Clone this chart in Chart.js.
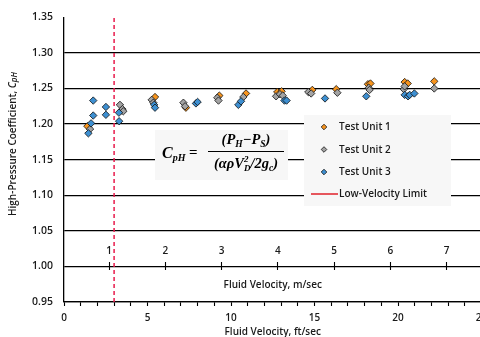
<!DOCTYPE html>
<html><head><meta charset="utf-8">
<script src="https://cdn.jsdelivr.net/npm/chart.js@4.4.1/dist/chart.umd.min.js"></script>
<style>
html,body{margin:0;padding:0;background:#fff;overflow:hidden;width:480px;height:337px}
#wrap{position:absolute;left:0;top:0;width:500px;height:337px}
</style>
</head><body><div id="wrap"><canvas id="c" width="500" height="337"></canvas></div>
<script>
// ---- data (velocity in ft/sec, coefficient CpH) ----
const unit1X = [1.40, 3.45, 5.45, 7.30, 9.30, 10.90, 12.77, 13.03, 14.87, 16.30, 18.20, 18.35, 20.40, 20.58, 22.17];
const unit1Y = [1.197, 1.219, 1.238, 1.223, 1.240, 1.243, 1.245, 1.246, 1.248, 1.249, 1.256, 1.257, 1.259, 1.257, 1.260];
const unit2X = [1.56, 3.35, 3.50, 3.55, 5.25, 5.35, 7.15, 7.25, 9.18, 9.25, 10.74, 12.70, 12.93, 13.10, 14.63, 14.80, 16.37, 18.25, 18.30, 20.35, 20.40, 22.17];
const unit2Y = [1.193, 1.227, 1.221, 1.218, 1.234, 1.230, 1.230, 1.225, 1.237, 1.233, 1.238, 1.239, 1.242, 1.240, 1.245, 1.243, 1.244, 1.251, 1.248, 1.249, 1.253, 1.250];
const unit3X = [1.46, 1.62, 1.75, 1.75, 2.51, 2.51, 3.29, 3.30, 5.40, 5.45, 7.90, 8.00, 10.44, 10.60, 13.20, 13.33, 15.63, 18.10, 20.40, 20.60, 20.70, 20.98];
const unit3Y = [1.187, 1.201, 1.212, 1.233, 1.224, 1.213, 1.216, 1.204, 1.227, 1.223, 1.229, 1.231, 1.227, 1.232, 1.233, 1.233, 1.236, 1.239, 1.241, 1.239, 1.241, 1.243];
const seriesLabels = ['Test Unit 1', 'Test Unit 2', 'Test Unit 3', 'Low-Velocity Limit'];
const lowVelocityLimitFt = 3;
const yRange = [0.95, 1.35];
const yStep = 0.05;
const ftRange = [0, 25];
const ftMinorStep = 1;
const ftLabelStep = 5;
const mRange = [0.2, 7.62];
const mTicks = [1, 2, 3, 4, 5, 6, 7];
const mAxisAtY = 1.00;

const ORANGE = '#f7941d', GRAY = '#a3a3a3', BLUE = '#3d8fd1', RED = '#e8194b';
const TXT = '#1a1a1a';
const FONT = '"Open Sans", "Noto Sans", sans-serif';
const tickFont = {family: FONT, size: 10, weight: '600'};

const pts = (xs, ys) => xs.map((x, i) => ({x, y: ys[i]}));
const pointStyle = {pointStyle: 'rectRot', pointRadius: 3.7, borderColor: '#111', borderWidth: 0.8};

const overlayPlugin = {
  id: 'overlay',
  beforeDatasetsDraw(chart) {
    const ctx = chart.ctx;
    ctx.save();
    // formula box
    ctx.fillStyle = '#f7f7f7';
    ctx.fillRect(155, 130, 133, 50);
    // legend box
    ctx.fillRect(304, 115, 147, 91);
    // formula
    ctx.fillStyle = '#000';
    ctx.textBaseline = 'alphabetic';
    const serif = (s) => `italic bold ${s}px "Liberation Serif", "DejaVu Serif", serif`;
    const runW = (segs) => { let w = 0; for (const g of segs) { if (g.stack) { ctx.font = serif(g.s); w += Math.max(ctx.measureText(g.t).width, ctx.measureText(g.t2).width); } else { ctx.font = g.up ? `bold ${g.s}px "Liberation Serif", serif` : serif(g.s); w += ctx.measureText(g.t).width; } } return w; };
    const run = (segs, x, base) => {
      let cx = x;
      for (const g of segs) {
        if (g.stack) {
          ctx.font = serif(g.s);
          ctx.fillText(g.t, cx, base - 6);
          ctx.fillText(g.t2, cx, base + 3);
          cx += Math.max(ctx.measureText(g.t).width, ctx.measureText(g.t2).width);
        } else {
          ctx.font = g.up ? `bold ${g.s}px "Liberation Serif", serif` : serif(g.s);
          ctx.fillText(g.t, cx, base + (g.dy || 0));
          cx += ctx.measureText(g.t).width;
        }
      }
    };
    run([{t: 'C', s: 16}, {t: 'pH', s: 10, dy: 3}], 162, 158);
    run([{t: '=', s: 15, up: true}], 189, 157);
    const num = [{t: '(P', s: 14.5}, {t: 'H', s: 9.5, dy: 3}, {t: '\u2212P', s: 14.5}, {t: 'S', s: 9.5, dy: 3}, {t: ')', s: 14.5}];
    const den = [{t: '(\u03b1\u03c1V', s: 14.5}, {stack: true, t: '2', t2: 'D', s: 9}, {t: '/2g', s: 14.5}, {t: 'c', s: 9.5, dy: 3}, {t: ')', s: 14.5}];
    const cxF = 246;
    run(num, cxF - runW(num) / 2, 144);
    run(den, cxF - runW(den) / 2, 168);
    ctx.strokeStyle = '#000'; ctx.lineWidth = 1.2;
    ctx.beginPath(); ctx.moveTo(208, 151.5); ctx.lineTo(284, 151.5); ctx.stroke();
    // legend items
    const ds = chart.data.datasets;
    const rows = [127, 149.5, 172, 194];
    ctx.font = `600 10px ${FONT}`;
    ctx.textBaseline = 'middle';
    ds.forEach((d, i) => {
      const y = rows[i];
      if (d.type === 'line') {
        ctx.strokeStyle = '#e0202a'; ctx.lineWidth = 1.5; ctx.setLineDash([]);
        ctx.beginPath(); ctx.moveTo(311, y); ctx.lineTo(338, y); ctx.stroke();
      } else {
        ctx.fillStyle = d.backgroundColor; ctx.strokeStyle = '#111'; ctx.lineWidth = 0.8;
        Chart.helpers.drawPoint(ctx, {pointStyle: 'rectRot', radius: 2.8, borderWidth: 0.8}, 324, y);
      }
      ctx.fillStyle = TXT;
      ctx.fillText(d.label, 339, y + 0.5);
    });
    // y-axis title (with italic symbol), fitted to the reference length
    ctx.translate(13, 144);
    ctx.rotate(-Math.PI / 2);
    const a = 'High-Pressure Coefficient, ';
    const measure = (fs) => {
      ctx.font = `600 ${fs}px ${FONT}`; const wa = ctx.measureText(a).width;
      ctx.font = `italic 600 ${fs}px ${FONT}`; const wc = ctx.measureText('C').width;
      ctx.font = `italic 600 ${fs * 0.8}px ${FONT}`; const wp = ctx.measureText('pH').width;
      return [wa, wc, wp];
    };
    let fs = 10;
    const m0 = measure(fs);
    fs = Math.min(10, fs * 165 / (m0[0] + m0[1] + m0[2]));
    const [wa, wc, wp] = measure(fs);
    let sx = -(wa + wc + wp) / 2;
    ctx.fillStyle = TXT; ctx.textBaseline = 'middle';
    ctx.font = `600 ${fs}px ${FONT}`; ctx.fillText(a, sx, 0); sx += wa;
    ctx.font = `italic 600 ${fs}px ${FONT}`; ctx.fillText('C', sx, 0); sx += wc;
    ctx.font = `italic 600 ${fs * 0.8}px ${FONT}`; ctx.fillText('pH', sx, 1.5);
    ctx.restore();
  }
};

new Chart(document.getElementById('c'), {
  type: 'scatter',
  data: {
    datasets: [
      {label: seriesLabels[0], data: pts(unit1X, unit1Y), backgroundColor: ORANGE, ...pointStyle, order: 3},
      {label: seriesLabels[1], data: pts(unit2X, unit2Y), backgroundColor: GRAY, ...pointStyle, order: 2},
      {label: seriesLabels[2], data: pts(unit3X, unit3Y), backgroundColor: BLUE, ...pointStyle, order: 1},
      {type: 'line', label: seriesLabels[3], data: [{x: lowVelocityLimitFt, y: yRange[0]}, {x: lowVelocityLimitFt, y: yRange[1]}],
       borderColor: RED, borderDash: [4, 3], borderWidth: 1.5, pointRadius: 0, fill: false, order: 0}
    ]
  },
  options: {
    responsive: false, animation: false, devicePixelRatio: 1,
    layout: {padding: {top: 13, right: 18.5, bottom: 0, left: 0}},
    plugins: {legend: {display: false}, tooltip: {enabled: false}},
    scales: {
      x: {
        type: 'linear', position: 'bottom', min: ftRange[0], max: ftRange[1],
        ticks: {stepSize: ftMinorStep, autoSkip: false, maxRotation: 0, padding: 6, color: TXT, font: tickFont,
                callback: (v) => (v % ftLabelStep === 0 ? String(v) : '')},
        grid: {drawOnChartArea: false, drawTicks: true, tickLength: 4, tickColor: '#000', tickWidth: 1.1},
        border: {color: '#000', width: 1.3},
        title: {display: true, text: 'Fluid Velocity, ft/sec', color: TXT, font: tickFont, padding: {top: 0, bottom: -1}},
        afterFit: (s) => { s.height = 35; }
      },
      x2: {
        type: 'linear', axis: 'x', position: {y: mAxisAtY + 0.0055}, min: mRange[0], max: mRange[1],
        afterBuildTicks: (s) => { s.ticks = mTicks.map((v) => ({value: v})); },
        ticks: {autoSkip: false, maxRotation: 0, padding: -25.2, color: TXT, font: tickFont},
        grid: {drawOnChartArea: false, drawTicks: true, tickLength: 8, tickColor: '#000', tickWidth: 1.1},
        border: {display: false},
        title: {display: true, text: 'Fluid Velocity, m/sec', color: TXT, font: tickFont, padding: {top: 47, bottom: 0}}
      },
      y: {
        min: yRange[0], max: yRange[1],
        ticks: {stepSize: yStep, padding: 11, color: TXT, font: {family: FONT, size: 10.5, weight: '600'},
                callback: (v) => Number(v).toFixed(2)},
        grid: {color: (c) => (Math.abs(c.tick.value - yRange[1]) < 1e-6 ? 'rgba(0,0,0,0)' : '#000'), lineWidth: 1.2, drawTicks: false},
        border: {color: '#000', width: 1.3},
        afterFit: (s) => { s.width = 64; }
      }
    }
  },
  plugins: [overlayPlugin]
});
</script>
</body></html>
